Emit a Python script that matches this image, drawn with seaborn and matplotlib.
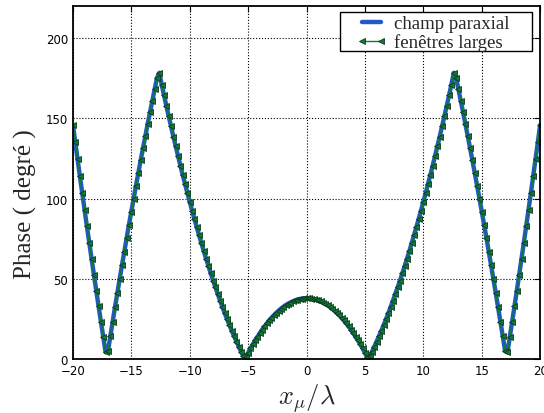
import numpy as np
import seaborn as sns
import matplotlib
matplotlib.use("Agg")
import matplotlib.pyplot as plt
from matplotlib.patches import Rectangle

# x axis: x_mu / lambda, sampled every 0.2 from -20 to 20
x_ratio = np.linspace(-20, 20, 201)

# phase (degrees)
phase_paraxial = [
    146.0, 135.2, 124.5, 113.9, 103.4, 93.0, 82.7, 72.5, 62.4, 52.5,
    42.6, 32.9, 23.3, 13.8, 4.3, 5.0, 14.2, 23.2, 32.2, 41.1,
    49.8, 58.5, 67.0, 75.5, 83.8, 92.0, 100.1, 108.1, 116.0, 123.8,
    131.4, 139.0, 146.5, 153.8, 161.0, 168.2, 175.2, 178.4, 171.1, 164.4,
    157.8, 151.4, 145.0, 138.7, 132.6, 126.6, 120.6, 114.8, 109.1, 103.5,
    98.0, 92.6, 87.3, 82.2, 77.1, 72.2, 67.3, 62.6, 58.0, 53.4,
    49.0, 44.7, 40.6, 36.5, 32.5, 28.6, 24.9, 21.2, 17.7, 14.3,
    11.0, 7.8, 4.6, 1.7, 1.2, 4.0, 6.7, 9.2, 11.7, 14.0,
    16.2, 18.4, 20.4, 22.3, 24.1, 25.8, 27.3, 28.8, 30.2, 31.4,
    32.6, 33.6, 34.5, 35.3, 36.0, 36.6, 37.1, 37.5, 37.8, 37.9,
    38.0,
    37.9, 37.8, 37.5, 37.1, 36.6, 36.0, 35.3, 34.5, 33.6, 32.6,
    31.4, 30.2, 28.8, 27.3, 25.8, 24.1, 22.3, 20.4, 18.4, 16.2,
    14.0, 11.7, 9.2, 6.7, 4.0, 1.2, 1.7, 4.6, 7.8, 11.0,
    14.3, 17.7, 21.2, 24.9, 28.6, 32.5, 36.5, 40.6, 44.7, 49.0,
    53.4, 58.0, 62.6, 67.3, 72.2, 77.1, 82.2, 87.3, 92.6, 98.0,
    103.5, 109.1, 114.8, 120.6, 126.6, 132.6, 138.7, 145.0, 151.4, 157.8,
    164.4, 171.1, 178.4, 175.2, 168.2, 161.0, 153.8, 146.5, 139.0, 131.4,
    123.8, 116.0, 108.1, 100.1, 92.0, 83.8, 75.5, 67.0, 58.5, 49.8,
    41.1, 32.2, 23.2, 14.2, 5.0, 4.3, 13.8, 23.3, 32.9, 42.6,
    52.5, 62.4, 72.5, 82.7, 93.0, 103.4, 113.9, 124.5, 135.2, 146.0,
]
# wide-window result overlaps the paraxial one
phase_larges = list(phase_paraxial)

x_ticks = [-20, -15, -10, -5, 0, 5, 10, 15, 20]
y_ticks = [0, 50, 100, 150, 200]

sns.set_style("white")
plt.rcParams["mathtext.fontset"] = "cm"

fig = plt.figure(figsize=(5.44, 4.14), dpi=100)
ax = fig.add_axes([0.134, 0.130, 0.859, 0.853])

sns.lineplot(x=x_ratio, y=phase_paraxial, ax=ax, color="#2458c8", lw=3.2,
             label="champ paraxial")
sns.lineplot(x=x_ratio, y=phase_larges, ax=ax, color="#0f7a35", lw=1,
             marker="<", markersize=4.8, markeredgecolor="#0b3a1a",
             markeredgewidth=0.6, label="fenêtres larges")

ax.set_xlim(-20, 20)
ax.set_ylim(0, 220)
ax.set_xticks(x_ticks)
ax.set_yticks(y_ticks)
ax.tick_params(direction="in", length=4, labelsize=8.5, top=True, right=True,
               colors="black")
ax.grid(True, color="black", linestyle=":", linewidth=0.8)
for sp in ax.spines.values():
    sp.set_color("black")
    sp.set_linewidth(1.3)

ax.set_ylabel("Phase ( degré )", fontsize=18, family="Liberation Serif")
ax.yaxis.set_label_coords(-0.077, 0.442)
ax.set_xlabel(r"$x_\mu/\lambda$", fontsize=19, labelpad=3)

# legend without its own frame, boxed by a wider rectangle like the original
leg = ax.legend(loc="upper right", bbox_to_anchor=(0.936, 0.961),
                bbox_transform=fig.transFigure, numpoints=2, frameon=False,
                borderpad=0, labelspacing=0.05, handlelength=1.6,
                handletextpad=0.4, borderaxespad=0,
                prop={"family": "Liberation Serif", "size": 13.5})
leg.set_zorder(6)
box = Rectangle((0.625, 0.874), 0.353, 0.095, transform=fig.transFigure,
                facecolor="white", edgecolor="black", linewidth=1.0,
                zorder=5, clip_on=False)
ax.add_patch(box)

fig.savefig("out.png", dpi=100)
